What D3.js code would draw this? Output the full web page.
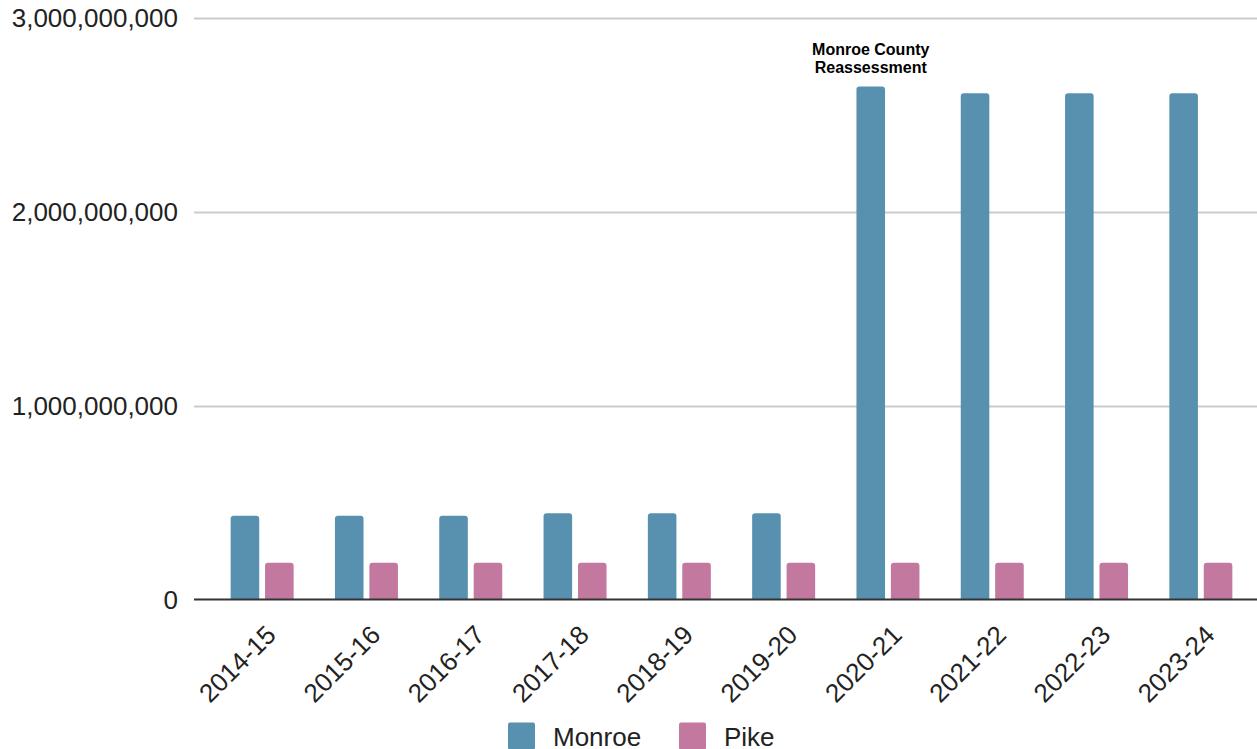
<!DOCTYPE html>
<html>
<head>
<meta charset="utf-8">
<script src="https://cdn.jsdelivr.net/npm/d3@7"></script>
<style>
	body { margin: 0; background: #fff; }
	text { font-family: "Liberation Sans", Arial, sans-serif; }
</style>
</head>
<body>
<div id="chart"></div>
<script>
// data
var years = ["2014-15", "2015-16", "2016-17", "2017-18", "2018-19", "2019-20", "2020-21", "2021-22", "2022-23", "2023-24"];
var monroe = [432e6, 432e6, 432e6, 445e6, 445e6, 445e6, 2646e6, 2612e6, 2612e6, 2612e6];
var pike = [190e6, 190e6, 190e6, 190e6, 190e6, 190e6, 190e6, 190e6, 190e6, 190e6];
var yTicks = [0, 1e9, 2e9, 3e9];
var seriesNames = ["Monroe", "Pike"];
var seriesColors = ["#5891b0", "#c2789f"];
var note = ["Monroe County", "Reassessment"];

var width = 1257, height = 749;
var plotLeft = 194, plotRight = 1257;

var svg = d3.select("#chart").append("svg")
	.attr("width", width)
	.attr("height", height);

var y = d3.scaleLinear()
	.domain([0, 3e9])
	.range([599.5, 18]);

var x = d3.scaleBand()
	.domain(years)
	.range([210, 1253])
	.padding(0);

var inner = d3.scaleBand()
	.domain(seriesNames)
	.range([0, 63])
	.paddingInner(0.17);

// grid + y labels
var grid = svg.append("g");
grid.selectAll("line")
	.data(yTicks.filter(function(d) { return d > 0; }))
	.enter().append("line")
		.attr("x1", plotLeft)
		.attr("x2", plotRight)
		.attr("y1", function(d) { return Math.round(y(d)) + 0.5; })
		.attr("y2", function(d) { return Math.round(y(d)) + 0.5; })
		.attr("stroke", "#cccccc")
		.attr("stroke-width", 2);

grid.selectAll("text")
	.data(yTicks)
	.enter().append("text")
		.attr("x", 178)
		.attr("y", function(d) { return y(d); })
		.attr("dy", "0.36em")
		.attr("text-anchor", "end")
		.attr("font-size", 26)
		.attr("fill", "#222")
		.text(function(d) { return d3.format(",")(d); });

// rounded-top bar
function barPath(x0, w, yTop, yBase, r) {
	r = Math.min(r, w / 2, yBase - yTop);
	return "M" + x0 + "," + yBase +
		"V" + (yTop + r) +
		"Q" + x0 + "," + yTop + " " + (x0 + r) + "," + yTop +
		"H" + (x0 + w - r) +
		"Q" + (x0 + w) + "," + yTop + " " + (x0 + w) + "," + (yTop + r) +
		"V" + yBase + "Z";
}

var groupW = inner.range()[1];
var series = [monroe, pike];
series.forEach(function(vals, si) {
	svg.append("g").selectAll("path")
		.data(years)
		.enter().append("path")
			.attr("d", function(d, i) {
				var x0 = x(d) + (x.bandwidth() - groupW) / 2 + inner(seriesNames[si]);
				return barPath(x0, inner.bandwidth(), y(vals[i]), y(0), 3);
			})
			.attr("fill", seriesColors[si]);
});

// baseline
svg.append("line")
	.attr("x1", plotLeft)
	.attr("x2", plotRight)
	.attr("y1", y(0))
	.attr("y2", y(0))
	.attr("stroke", "#333")
	.attr("stroke-width", 2);

// x labels
svg.append("g").selectAll("text")
	.data(years)
	.enter().append("text")
		.attr("transform", function(d) {
			return "translate(" + (x(d) + x.bandwidth() / 2 + 9) + ",630) rotate(-45)";
		})
		.attr("dy", "0.35em")
		.attr("text-anchor", "end")
		.attr("font-size", 26)
		.attr("fill", "#222")
		.text(function(d) { return d; });

// annotation over 2020-21 Monroe
var noteX = x("2020-21") + (x.bandwidth() - groupW) / 2 + inner("Monroe") + inner.bandwidth() / 2;
svg.append("text")
	.attr("x", noteX)
	.attr("y", 55)
	.attr("text-anchor", "middle")
	.attr("font-size", 16)
	.attr("font-weight", "bold")
	.attr("fill", "#000")
	.selectAll("tspan")
	.data(note)
	.enter().append("tspan")
		.attr("x", noteX)
		.attr("dy", function(d, i) { return i ? 17.5 : 0; })
		.text(function(d) { return d; });

// legend
var legendPos = [508, 679];
var legend = svg.append("g").selectAll("g")
	.data(seriesNames)
	.enter().append("g")
		.attr("transform", function(d, i) { return "translate(" + legendPos[i] + ",722.5)"; });
legend.append("rect")
	.attr("width", 27)
	.attr("height", 27)
	.attr("rx", 2)
	.attr("fill", function(d, i) { return seriesColors[i]; });
legend.append("text")
	.attr("x", 45)
	.attr("y", 23.5)
	.attr("font-size", 26)
	.attr("fill", "#222")
	.text(function(d) { return d; });
</script>
</body>
</html>
